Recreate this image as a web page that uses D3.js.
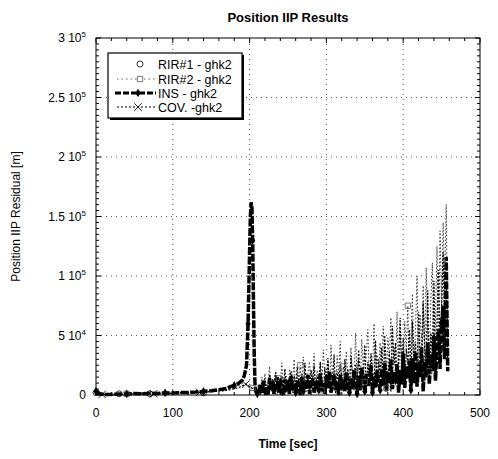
<!DOCTYPE html>
<html>
<head>
<meta charset="utf-8">
<script src="https://cdn.jsdelivr.net/npm/d3@7"></script>
<style>
  body { margin: 0; background: #fff; }
  text { font-family: "Liberation Sans", Arial, sans-serif; }
</style>
</head>
<body>
<div class="chart"></div>
<script>
// values in units of 1e3 m
const xTicks = [0, 100, 200, 300, 400, 500];
const yTicks = [0, 50000, 100000, 150000, 200000, 250000, 300000];
const yTickMant = ["0", "5", "1", "1.5", "2", "2.5", "3"];
const yTickExp = ["", "4", "5", "5", "5", "5", "5"];

// INS - before and around the peak
const insEarlyT = [0, 5, 10, 20, 30, 40, 50, 60, 70, 80, 90, 100, 110, 120, 130, 140, 150, 160, 170, 175, 180, 185, 190, 193, 196, 198, 200, 201, 202, 203, 204, 205, 206, 207, 208, 210];
const insEarlyV = [3, 1, 0.5, 0.5, 0.8, 1, 1.2, 1, 1.5, 1.3, 1.8, 1.6, 2, 2.2, 2.5, 3, 3.5, 4.5, 5.5, 7, 8, 9.5, 12, 16, 25, 60, 120, 150, 162, 158, 130, 80, 35, 10, 3, 1];

// common sample times of the noisy part
const noiseT = [212, 214, 216, 218, 220, 222, 224, 226, 228, 230, 232, 234, 236, 238, 240, 242, 244, 246, 248, 250,
  252, 254, 256, 258, 260, 262, 264, 266, 268, 270, 272, 274, 276, 278, 280, 282, 284, 286, 288, 290,
  292, 294, 296, 298, 300, 302, 304, 306, 308, 310, 312, 314, 316, 318, 320, 322, 324, 326, 328, 330,
  332, 334, 336, 338, 340, 342, 344, 346, 348, 350, 352, 354, 356, 358, 360, 362, 364, 366, 368, 370,
  372, 374, 376, 378, 380, 382, 384, 386, 388, 390, 392, 394, 396, 398, 400, 402, 404, 406, 408, 410,
  412, 414, 416, 418, 420, 422, 424, 426, 428, 430, 432, 434, 436, 438, 440, 442, 444, 446, 448, 450,
  452, 454, 456, 458];

const insNoise = [2, 9, 1, 12, 3, 7, 0, 14, 4, 10, 1, 8, 15, 2, 11, 5, 0, 13, 6, 9,
  1, 16, 4, 10, 2, 12, 7, 0, 15, 3, 11, 5, 17, 1, 9, 14, 2, 8, 12, 4,
  18, 3, 10, 1, 14, 6, 20, 2, 9, 15, 4, 11, 0, 17, 7, 13, 3, 19, 8, 2,
  14, 5, 21, 9, 1, 16, 4, 23, 10, 3, 18, 7, 12, 25, 2, 15, 6, 20, 11, 4,
  22, 8, 27, 3, 17, 10, 30, 5, 19, 12, 26, 2, 21, 9, 33, 6, 24, 14, 29, 4,
  31, 10, 36, 7, 25, 15, 40, 3, 28, 18, 44, 9, 34, 20, 48, 12, 38, 55, 22, 60,
  75, 30, 116, 20];

// COV - ghk2
const covEarlyT = [0, 8, 20, 33, 45, 55, 65, 75, 85, 95, 105, 115, 125, 135, 145, 155, 165, 175, 185, 195, 205];
const covEarlyV = [1, 0.5, 0.3, 0.5, 1, 0.8, 1.2, 1, 1.5, 1.2, 1.8, 1.5, 2, 2.2, 2.6, 3, 3.5, 4.5, 6, 9, 5];
const covNoise = [5, 0, 11, 3, 14, 6, 2, 17, 8, 1, 12, 19, 4, 10, 0, 15, 7, 22, 3, 13,
  9, 20, 2, 16, 6, 24, 11, 1, 18, 5, 27, 8, 14, 3, 21, 10, 25, 4, 16, 7,
  28, 12, 2, 23, 9, 31, 5, 18, 13, 34, 1, 20, 8, 26, 15, 3, 30, 11, 22, 6,
  33, 14, 4, 26, 10, 38, 7, 21, 16, 42, 2, 28, 12, 35, 19, 5, 46, 9, 30, 17,
  40, 8, 50, 22, 13, 36, 3, 58, 25, 44, 10, 31, 65, 18, 48, 6, 38, 27, 55, 12,
  62, 20, 45, 9, 70, 33, 15, 78, 40, 26, 88, 12, 52, 35, 96, 21, 60, 105, 30, 74,
  120, 45, 95, 25];

// RIR#2 - ghk2
const rir2EarlyT = [0, 12, 25, 40, 50, 60, 72, 84, 96, 108, 120, 132, 144, 156, 168, 180, 192, 204];
const rir2EarlyV = [2, 1, 0.5, 1, 1.5, 1, 1.2, 1.8, 1.5, 2, 2.4, 2, 3, 3.5, 4, 6, 10, 6];
const rir2Noise = [8, 2, 15, 5, 18, 1, 10, 24, 3, 12, 6, 20, 0, 14, 9, 27, 4, 11, 16, 2,
  22, 7, 13, 30, 1, 17, 9, 25, 5, 32, 11, 3, 19, 28, 6, 14, 35, 2, 21, 10,
  26, 4, 38, 15, 8, 29, 2, 42, 12, 20, 6, 33, 17, 45, 3, 24, 10, 37, 14, 5,
  40, 18, 8, 52, 13, 30, 4, 47, 22, 11, 36, 55, 7, 28, 16, 60, 9, 34, 20, 44,
  12, 58, 26, 6, 48, 32, 65, 14, 40, 22, 70, 9, 52, 30, 18, 62, 37, 75, 11, 45,
  85, 24, 55, 100, 16, 68, 40, 92, 28, 107, 50, 20, 80, 111, 35, 62, 125, 45, 138, 70,
  145, 90, 160, 40];

// RIR#1 - ghk2 (symbols only)
const rir1T = [0, 30, 70, 140, 268, 312, 362, 424];
const rir1V = [2, 1, 1, 2, 12, 8, 15, 25];

const legendNames = ["RIR#1 - ghk2", "RIR#2 - ghk2", "INS - ghk2", "COV. -ghk2"];

const pts = (t, v) => t.map((d, i) => ({t: d, v: v[i] * 1000}));

const series = {
  rir1: pts(rir1T, rir1V),
  rir2: pts(rir2EarlyT.concat(noiseT), rir2EarlyV.concat(rir2Noise)),
  cov: pts(covEarlyT.concat(noiseT), covEarlyV.concat(covNoise)),
  ins: pts(insEarlyT.concat(noiseT), insEarlyV.concat(insNoise))
};

const width = 498, height = 459;
const margin = {top: 38, right: 18, bottom: 64, left: 96};

const svg = d3.select(".chart").append("svg")
  .attr("width", width)
  .attr("height", height);

const x = d3.scaleLinear().domain([0, 500]).range([margin.left, width - margin.right]);
const y = d3.scaleLinear().domain([0, 300000]).range([height - margin.bottom, margin.top]);

// grid
svg.append("g")
  .selectAll("line")
  .data(xTicks.slice(1, -1))
  .join("line")
    .attr("x1", d => x(d)).attr("x2", d => x(d))
    .attr("y1", y(0)).attr("y2", y(300000))
    .attr("stroke", "#555").attr("stroke-width", 1).attr("stroke-dasharray", "1,4");
svg.append("g")
  .selectAll("line")
  .data(yTicks.slice(1, -1))
  .join("line")
    .attr("y1", d => y(d)).attr("y2", d => y(d))
    .attr("x1", x(0)).attr("x2", x(500))
    .attr("stroke", "#555").attr("stroke-width", 1).attr("stroke-dasharray", "1,4");

// minor ticks on every side
const xMinor = d3.range(0, 501, 20);
const yMinor = d3.range(0, 300001, 5000);
const ticks = svg.append("g").attr("stroke", "#000").attr("stroke-width", 1);
ticks.append("g").selectAll("line").data(xMinor).join("line")
  .attr("x1", d => x(d)).attr("x2", d => x(d))
  .attr("y1", y(0)).attr("y2", d => y(0) - (d % 100 === 0 ? 5 : 3));
ticks.append("g").selectAll("line").data(xMinor).join("line")
  .attr("x1", d => x(d)).attr("x2", d => x(d))
  .attr("y1", y(300000)).attr("y2", d => y(300000) + (d % 100 === 0 ? 5 : 3));
ticks.append("g").selectAll("line").data(yMinor).join("line")
  .attr("y1", d => y(d)).attr("y2", d => y(d))
  .attr("x1", x(0)).attr("x2", d => x(0) + (d % 50000 === 0 ? 5 : 3));
ticks.append("g").selectAll("line").data(yMinor).join("line")
  .attr("y1", d => y(d)).attr("y2", d => y(d))
  .attr("x1", x(500)).attr("x2", d => x(500) - (d % 50000 === 0 ? 5 : 3));

// series
const line = d3.line().x(d => x(d.t)).y(d => y(d.v));
const plot = svg.append("g");

plot.append("path").datum(series.rir2)
  .attr("d", line).attr("fill", "none")
  .attr("stroke", "#333").attr("stroke-width", 1).attr("stroke-dasharray", "1.5,2");
plot.append("path").datum(series.cov)
  .attr("d", line).attr("fill", "none")
  .attr("stroke", "#000").attr("stroke-width", 1.2).attr("stroke-dasharray", "2,1.5");
plot.append("path").datum(series.ins)
  .attr("d", line).attr("fill", "none")
  .attr("stroke", "#000").attr("stroke-width", 3.5).attr("stroke-dasharray", "8,1.5");

// markers
const sq = d3.symbol().type(d3.symbolSquare).size(28);
const cross = d3.symbol().type(d3.symbolX).size(40);
const dia = d3.symbol().type(d3.symbolDiamond).size(22);

plot.append("g").selectAll("path")
  .data(series.rir2.filter((d, i) => i % 14 === 3))
  .join("path")
    .attr("d", sq).attr("transform", d => `translate(${x(d.t)},${y(d.v)})`)
    .attr("fill", "none").attr("stroke", "#555").attr("stroke-width", 0.8);
plot.append("g").selectAll("path")
  .data(series.cov.filter((d, i) => i % 6 === 1 && d.t < 220))
  .join("path")
    .attr("d", cross).attr("transform", d => `translate(${x(d.t)},${y(d.v)})`)
    .attr("fill", "none").attr("stroke", "#000").attr("stroke-width", 0.8);
plot.append("g").selectAll("path")
  .data(series.ins.filter((d, i) => i % 5 === 0))
  .join("path")
    .attr("d", dia).attr("transform", d => `translate(${x(d.t)},${y(d.v)})`)
    .attr("fill", "#000");
plot.append("g").selectAll("circle")
  .data(series.rir1)
  .join("circle")
    .attr("cx", d => x(d.t)).attr("cy", d => y(d.v)).attr("r", 3)
    .attr("fill", "none").attr("stroke", "#000").attr("stroke-width", 0.8);

// frame
svg.append("rect")
  .attr("x", x(0)).attr("y", y(300000))
  .attr("width", x(500) - x(0)).attr("height", y(0) - y(300000))
  .attr("fill", "none").attr("stroke", "#000").attr("stroke-width", 1);

// tick labels
svg.append("g").selectAll("text")
  .data(xTicks)
  .join("text")
    .attr("x", d => x(d)).attr("y", y(0) + 22)
    .attr("text-anchor", "middle").attr("font-size", 12)
    .text(d => d);

const yl = svg.append("g").selectAll("text")
  .data(yTicks)
  .join("text")
    .attr("x", x(0) - 10).attr("y", d => y(d) + 4)
    .attr("text-anchor", "end").attr("font-size", 12);
yl.append("tspan").text((d, i) => i === 0 ? yTickMant[i] : yTickMant[i] + " 10");
yl.append("tspan")
  .attr("dy", -5).attr("font-size", 8)
  .text((d, i) => yTickExp[i]);

// titles
svg.append("text")
  .attr("x", (x(0) + x(500)) / 2).attr("y", 22)
  .attr("text-anchor", "middle").attr("font-size", 13).attr("font-weight", "bold")
  .text("Position IIP Results");
svg.append("text")
  .attr("x", (x(0) + x(500)) / 2).attr("y", 448)
  .attr("text-anchor", "middle").attr("font-size", 12).attr("font-weight", "bold")
  .text("Time [sec]");
svg.append("text")
  .attr("transform", `translate(20,${(y(0) + y(300000)) / 2}) rotate(-90)`)
  .attr("text-anchor", "middle").attr("font-size", 12)
  .text("Position IIP Residual [m]");

// legend
const lg = svg.append("g").attr("transform", "translate(108,53)");
lg.append("rect").attr("x", 2).attr("y", 2).attr("width", 134).attr("height", 65).attr("fill", "#000");
lg.append("rect").attr("width", 134).attr("height", 65)
  .attr("fill", "#fff").attr("stroke", "#000").attr("stroke-width", 1.2);
const rowY = [11, 26, 40, 54];
const row = lg.selectAll("g").data(legendNames).join("g")
  .attr("transform", (d, i) => `translate(0,${rowY[i]})`);
row.append("text").attr("x", 50).attr("y", 4.5).attr("font-size", 12.5).text(d => d);

lg.append("circle").attr("cx", 32).attr("cy", rowY[0]).attr("r", 3)
  .attr("fill", "none").attr("stroke", "#000").attr("stroke-width", 0.8);
lg.append("line").attr("x1", 9).attr("x2", 48).attr("y1", rowY[1]).attr("y2", rowY[1])
  .attr("stroke", "#666").attr("stroke-dasharray", "1.5,3");
lg.append("path").attr("d", sq).attr("transform", `translate(32,${rowY[1]})`)
  .attr("fill", "#fff").attr("stroke", "#555").attr("stroke-width", 0.8);
lg.append("line").attr("x1", 7).attr("x2", 48).attr("y1", rowY[2]).attr("y2", rowY[2])
  .attr("stroke", "#000").attr("stroke-width", 3).attr("stroke-dasharray", "6,2");
lg.append("path").attr("d", dia).attr("transform", `translate(30,${rowY[2]})`).attr("fill", "#000");
lg.append("line").attr("x1", 9).attr("x2", 48).attr("y1", rowY[3]).attr("y2", rowY[3])
  .attr("stroke", "#000").attr("stroke-dasharray", "2,2");
lg.append("path").attr("d", cross).attr("transform", `translate(30,${rowY[3]})`)
  .attr("fill", "#fff").attr("stroke", "#000").attr("stroke-width", 0.8);
</script>
</body>
</html>
